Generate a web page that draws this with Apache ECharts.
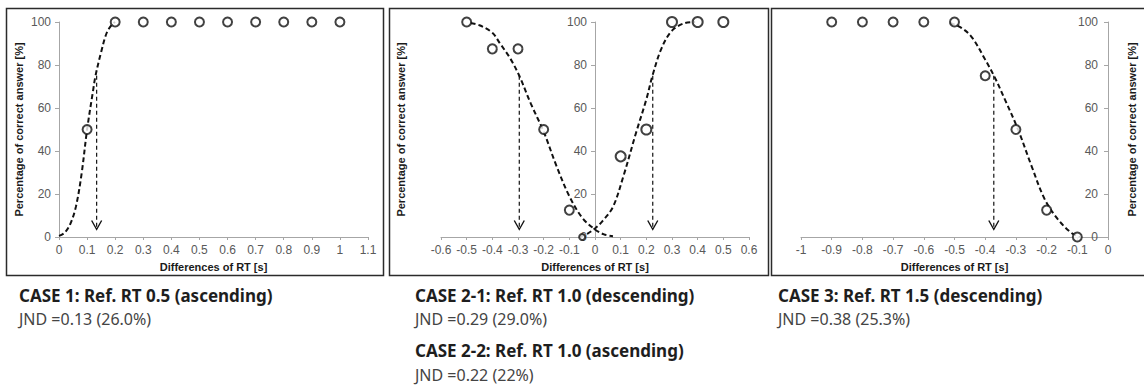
<!DOCTYPE html>
<html><head><meta charset="utf-8">
<script src="https://cdn.jsdelivr.net/npm/echarts@6/dist/echarts.min.js"></script>
<style>html,body{margin:0;padding:0;background:#fff}#c{width:1144px;height:389px}</style>
</head><body><div id="c"></div>
<script>
// ---------- data ----------
const yMin = 0, yMax = 100, yInterval = 20;
const threshold = 75;
const xAxisTitle = 'Differences of RT [s]';
const yAxisTitle = 'Percentage of correct answer [%]';

// CASE 1 (ascending)
const c1PointX = [0.1, 0.2, 0.3, 0.4, 0.5, 0.6, 0.7, 0.8, 0.9, 1.0];
const c1PointY = [50, 100, 100, 100, 100, 100, 100, 100, 100, 100];
const c1CurveX = [0, 0.02, 0.04, 0.06, 0.08, 0.1, 0.12, 0.13, 0.15, 0.17, 0.19, 0.2];
const c1CurveY = [0.5, 2, 6, 14, 29, 50, 67, 75, 86, 95, 99, 100];
const c1Jnd = 0.134;
const c1RedX = [0.015, 1.083];

// CASE 2-1 (descending) and CASE 2-2 (ascending)
const c21PointX = [-0.5, -0.4, -0.3, -0.2, -0.1];
const c21PointY = [100, 87.5, 87.5, 50, 12.5];
const c22PointX = [-0.05, 0.1, 0.2, 0.3, 0.4, 0.5];
const c22PointY = [0, 37.5, 50, 100, 100, 100];
const c21CurveX = [-0.485, -0.45, -0.4, -0.37, -0.33, -0.295, -0.25, -0.2, -0.15, -0.1, -0.05, 0, 0.035, 0.07];
const c21CurveY = [99.5, 98.5, 95, 90, 83, 75, 62, 49, 33, 19, 9, 3.5, 1.2, 0.3];
const c22CurveX = [-0.06, -0.03, 0, 0.03, 0.07, 0.11, 0.16, 0.2, 0.225, 0.26, 0.3, 0.35, 0.39];
const c22CurveY = [0, 1.5, 4, 7.5, 14, 28, 48.5, 64, 75.5, 88, 96, 99.5, 100];
const c21Jnd = -0.295, c22Jnd = 0.225;
const c2RedX = [-0.6, 0.564];

// CASE 3 (descending)
const c3PointX = [-0.9, -0.8, -0.7, -0.6, -0.5, -0.4, -0.3, -0.2, -0.1];
const c3PointY = [100, 100, 100, 100, 100, 75, 50, 12.5, 0];
const c3CurveX = [-0.515, -0.48, -0.444, -0.4, -0.368, -0.336, -0.293, -0.249, -0.206, -0.163, -0.12, -0.092];
const c3CurveY = [99.5, 97.5, 93, 82.5, 74, 64, 50, 33, 17.5, 8.2, 2, 0];
const c3Jnd = -0.372;
const c3RedX = [-0.975, 0];

const arrowTipY = 3.5;

const captions = [
  ['CASE 1: Ref. RT 0.5 (ascending)', 'JND =0.13 (26.0%)'],
  ['CASE 2-1: Ref. RT 1.0 (descending)', 'JND =0.29 (29.0%)'],
  ['CASE 2-2: Ref. RT 1.0 (ascending)', 'JND =0.22 (22%)'],
  ['CASE 3: Ref. RT 1.5 (descending)', 'JND =0.38 (25.3%)']
];

// ---------- helpers ----------
const zip = (xs, ys) => xs.map((x, i) => [x, ys[i]]);
const FONT = '"Liberation Sans", Arial, sans-serif';
const axisColor = '#a6a6a6';
const labelColor = '#595959';

function xAx(gi, min, max) {
  return {
    type: 'value', gridIndex: gi, min: min, max: max, interval: 0.1,
    name: xAxisTitle, nameLocation: 'middle', nameGap: 24,
    nameTextStyle: {fontFamily: FONT, fontWeight: 'bold', fontSize: 11, color: '#1a1a1a'},
    axisLine: {show: true, onZero: false, lineStyle: {color: axisColor, width: 1}},
    axisTick: {show: true, length: 3, lineStyle: {color: axisColor}},
    splitLine: {show: false},
    axisLabel: {color: labelColor, fontFamily: FONT, fontSize: 12, margin: 7}
  };
}
function yAx(gi, opts) {
  return Object.assign({
    type: 'value', gridIndex: gi, min: yMin, max: yMax, interval: yInterval,
    name: yAxisTitle, nameLocation: 'middle', nameRotate: 90,
    nameTextStyle: {fontFamily: FONT, fontWeight: 'bold', fontSize: 11, color: '#1a1a1a'},
    axisLine: {show: true, onZero: false, lineStyle: {color: axisColor, width: 1}},
    axisTick: {show: true, length: 4, lineStyle: {color: axisColor}},
    splitLine: {show: false},
    axisLabel: {color: labelColor, fontFamily: FONT, fontSize: 12, margin: 8}
  }, opts);
}
function redLine(gi, xs) {
  return {type: 'line', xAxisIndex: gi, yAxisIndex: gi, data: zip(xs, [threshold, threshold]),
    symbol: 'none', silent: true, z: 1,
    lineStyle: {color: '#d42020', width: 1.3, type: [5, 4],
      shadowColor: 'rgba(255,140,140,0.6)', shadowBlur: 5}};
}
function curve(gi, xs, ys) {
  return {type: 'line', xAxisIndex: gi, yAxisIndex: gi, data: zip(xs, ys),
    symbol: 'none', smooth: 0.35, silent: true, z: 3,
    lineStyle: {color: '#111', width: 2, type: [5, 3]}};
}
function arrow(gi, x) {
  return {type: 'line', xAxisIndex: gi, yAxisIndex: gi, silent: true, z: 2,
    data: [{value: [x, threshold], symbol: 'none'},
           {value: [x, arrowTipY], symbol: 'path://M0,0 L6,9 L12,0', symbolSize: [10, 9],
            symbolOffset: [0, '-50%']}],
    showSymbol: true,
    itemStyle: {color: 'rgba(0,0,0,0)', borderColor: '#111', borderWidth: 1.3},
    lineStyle: {color: '#111', width: 1.2, type: [4, 3]}};
}
function points(gi, xs, ys, size) {
  return {type: 'scatter', xAxisIndex: gi, yAxisIndex: gi, data: zip(xs, ys),
    symbol: 'circle', symbolSize: size, silent: true, z: 4,
    itemStyle: {color: '#fff', borderColor: '#111', borderWidth: 2}};
}

const chart = echarts.init(document.getElementById('c'), null, {renderer: 'svg'});

const grids = [
  {left: 59, top: 22, width: 309, height: 215, outerBoundsMode: 'none'},
  {left: 441, top: 22, width: 308, height: 215, outerBoundsMode: 'none'},
  {left: 801, top: 22, width: 307, height: 215, outerBoundsMode: 'none'}
];

const captionX = [19, 415, 415, 778];
const captionY = [[295, 319], [295, 319], [350, 375], [295, 319]];
const graphics = [];
[[6.5, 8.5, 377, 267], [389.5, 8.5, 379, 267], [771.5, 8.5, 400, 267]].forEach(r => {
  graphics.push({type: 'rect', shape: {x: r[0], y: r[1], width: r[2], height: r[3]},
    style: {fill: 'none', stroke: '#2b2b2b', lineWidth: 1.5}, silent: true, z: 0});
});
captions.forEach((c, i) => {
  graphics.push({type: 'text', x: captionX[i], y: captionY[i][0], silent: true,
    style: {text: c[0], font: 'bold 17px "Noto Sans", sans-serif', fill: '#1e1e1e', verticalAlign: 'middle'}});
  graphics.push({type: 'text', x: captionX[i], y: captionY[i][1], silent: true,
    style: {text: c[1], font: '16px "Noto Sans", sans-serif', fill: '#444', verticalAlign: 'middle'}});
});

chart.setOption({
  animation: false,
  backgroundColor: '#fff',
  grid: grids,
  xAxis: [xAx(0, 0, 1.1), xAx(1, -0.6, 0.6), xAx(2, -1, 0)],
  yAxis: [
    yAx(0, {position: 'left', nameGap: 35}),
    yAx(1, {position: 'left', offset: -154, nameGap: 189}),
    yAx(2, {position: 'right', nameGap: 18,
      axisLabel: {color: labelColor, fontFamily: FONT, fontSize: 12, margin: 10, inside: true},
      axisTick: {show: true, inside: true, length: 4, lineStyle: {color: axisColor}}})
  ],
  series: [
    redLine(0, c1RedX), curve(0, c1CurveX, c1CurveY), arrow(0, c1Jnd), points(0, c1PointX, c1PointY, 9),
    redLine(1, c2RedX), curve(1, c21CurveX, c21CurveY), curve(1, c22CurveX, c22CurveY),
    arrow(1, c21Jnd), arrow(1, c22Jnd),
    points(1, c21PointX, c21PointY, 9), points(1, c22PointX.slice(1), c22PointY.slice(1), 10),
    points(1, c22PointX.slice(0, 1), c22PointY.slice(0, 1), 6),
    redLine(2, c3RedX), curve(2, c3CurveX, c3CurveY), arrow(2, c3Jnd), points(2, c3PointX, c3PointY, 9)
  ],
  graphic: graphics
});
</script></body></html>
